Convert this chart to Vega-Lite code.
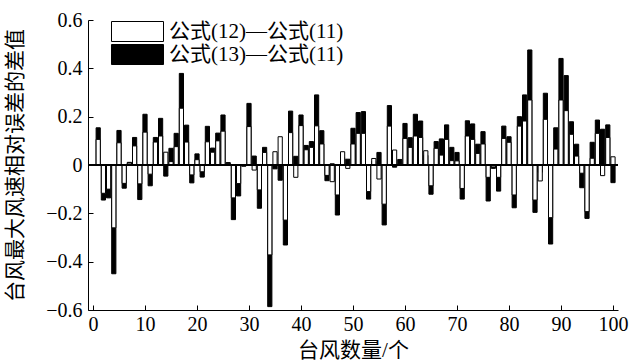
{
  "$schema": "https://vega.github.io/schema/vega-lite/v6.json",
  "width": 530,
  "height": 290,
  "autosize": {"type": "none"},
  "padding": {"left": 88, "top": 20, "right": 23, "bottom": 51},
  "background": "white",
  "config": {
    "view": {"stroke": null},
    "font": "Liberation Serif, Noto Sans CJK SC",
    "axis": {"domainColor": "black", "tickColor": "black", "labelColor": "black", "titleColor": "black", "grid": false, "titleFontWeight": "normal", "labelFontSize": 20, "titleFontSize": 21, "tickSize": -5, "domainWidth": 1, "tickWidth": 1}
  },
  "data": {"values": [
    {"n":1,"f12":0.106,"f13":0.154},{"n":2,"f12":-0.117,"f13":-0.145},{"n":3,"f12":-0.1,"f13":-0.136},{"n":4,"f12":-0.26,"f13":-0.45},{"n":5,"f12":0.092,"f13":0.143},
    {"n":6,"f12":-0.076,"f13":-0.096},{"n":7,"f12":0.008,"f13":0.011},{"n":8,"f12":0.079,"f13":0.114},{"n":9,"f12":-0.078,"f13":-0.143},{"n":10,"f12":0.136,"f13":0.21},
    {"n":11,"f12":-0.038,"f13":-0.086},{"n":12,"f12":0.095,"f13":0.114},{"n":13,"f12":0.12,"f13":0.193},{"n":14,"f12":0.053,"f13":-0.046},{"n":15,"f12":0.014,"f13":0.069},
    {"n":16,"f12":0.076,"f13":0.131},{"n":17,"f12":0.235,"f13":0.379},{"n":18,"f12":0.095,"f13":0.165},{"n":19,"f12":-0.041,"f13":-0.074},{"n":20,"f12":0.022,"f13":0.046},
    {"n":21,"f12":-0.028,"f13":-0.05},{"n":22,"f12":0.096,"f13":0.16},{"n":23,"f12":0.053,"f13":0.07},{"n":24,"f12":0.1,"f13":0.132},{"n":25,"f12":0.14,"f13":0.207},
    {"n":26,"f12":0.005,"f13":0.01},{"n":27,"f12":-0.136,"f13":-0.226},{"n":28,"f12":-0.077,"f13":-0.128},{"n":29,"f12":-0.003,"f13":-0.005},{"n":30,"f12":0.159,"f13":0.255},
    {"n":31,"f12":-0.021,"f13":0.037},{"n":32,"f12":-0.103,"f13":-0.179},{"n":33,"f12":0.052,"f13":0.073},{"n":34,"f12":-0.372,"f13":-0.586},{"n":35,"f12":0.055,"f13":-0.016},
    {"n":36,"f12":0.117,"f13":-0.063},{"n":37,"f12":-0.228,"f13":-0.331},{"n":38,"f12":0.134,"f13":0.223},{"n":39,"f12":-0.051,"f13":0.036},{"n":40,"f12":0.163,"f13":0.207},
    {"n":41,"f12":0.063,"f13":0.081},{"n":42,"f12":0.073,"f13":0.097},{"n":43,"f12":0.162,"f13":0.29},{"n":44,"f12":0.087,"f13":0.142},{"n":45,"f12":-0.043,"f13":-0.065},
    {"n":46,"f12":-0.069,"f13":0.005},{"n":47,"f12":-0.124,"f13":-0.207},{"n":48,"f12":0.055,"f13":0.03},{"n":49,"f12":-0.014,"f13":0.024},{"n":50,"f12":0.087,"f13":0.152},
    {"n":51,"f12":0.131,"f13":0.217},{"n":52,"f12":0.131,"f13":0.221},{"n":53,"f12":-0.11,"f13":-0.141},{"n":54,"f12":0.027,"f13":0.015},{"n":55,"f12":-0.058,"f13":0.052},
    {"n":56,"f12":-0.162,"f13":-0.248},{"n":57,"f12":0.161,"f13":0.246},{"n":58,"f12":0.062,"f13":-0.009},{"n":59,"f12":0.006,"f13":0.023},{"n":60,"f12":0.11,"f13":0.172},
    {"n":61,"f12":0.073,"f13":0.113},{"n":62,"f12":0.12,"f13":0.21},{"n":63,"f12":0.114,"f13":0.182},{"n":64,"f12":0.059,"f13":0.04},{"n":65,"f12":-0.086,"f13":-0.121},
    {"n":66,"f12":0.069,"f13":0.097},{"n":67,"f12":0.041,"f13":0.108},{"n":68,"f12":0.106,"f13":0.166},{"n":69,"f12":0.018,"f13":0.073},{"n":70,"f12":0.017,"f13":0.052},
    {"n":71,"f12":-0.097,"f13":-0.141},{"n":72,"f12":0.12,"f13":0.183},{"n":73,"f12":0.106,"f13":0.17},{"n":74,"f12":0.048,"f13":0.086},{"n":75,"f12":0.087,"f13":0.138},
    {"n":76,"f12":-0.051,"f13":-0.149},{"n":77,"f12":-0.008,"f13":-0.014},{"n":78,"f12":-0.051,"f13":-0.108},{"n":79,"f12":0.11,"f13":0.161},{"n":80,"f12":0.094,"f13":0.117},
    {"n":81,"f12":-0.124,"f13":-0.177},{"n":82,"f12":0.161,"f13":0.2},{"n":83,"f12":0.182,"f13":0.29},{"n":84,"f12":0.269,"f13":0.476},{"n":85,"f12":-0.145,"f13":-0.196},
    {"n":86,"f12":-0.066,"f13":-0.03},{"n":87,"f12":0.189,"f13":0.297},{"n":88,"f12":-0.218,"f13":-0.327},{"n":89,"f12":0.066,"f13":0.154},{"n":90,"f12":0.269,"f13":0.441},
    {"n":91,"f12":0.225,"f13":0.37},{"n":92,"f12":0.127,"f13":0.179},{"n":93,"f12":0.037,"f13":0.086},{"n":94,"f12":-0.034,"f13":-0.094},{"n":95,"f12":-0.193,"f13":-0.221},
    {"n":96,"f12":0.028,"f13":0.094},{"n":97,"f12":0.131,"f13":0.186},{"n":98,"f12":-0.044,"f13":0.148},{"n":99,"f12":0.114,"f13":0.166},{"n":100,"f12":0.034,"f13":-0.073}
  ]},
  "layer": [
    {
      "transform": [{"fold": ["f13", "f12"], "as": ["s", "v"]}],
      "mark": {"type": "bar", "stroke": "black", "strokeWidth": 1, "size": 4.2},
      "encoding": {
        "x": {"field": "n", "type": "quantitative", "scale": {"domain": [0, 100], "nice": false},
          "axis": {"values": [0,10,20,30,40,50,60,70,80,90,100], "title": "台风数量/个", "labelFlush": false, "labelPadding": 9, "titlePadding": 5}},
        "y": {"field": "v", "type": "quantitative", "stack": null, "scale": {"domain": [-0.6, 0.6], "nice": false},
          "axis": {"values": [-0.6,-0.4,-0.2,0,0.2,0.4,0.6], "labelExpr": "datum.value == 0 ? '0' : format(datum.value, '.1f')", "title": "台风最大风速相对误差的差值", "titleX": -73, "titleY": 145, "titleBaseline": "middle", "titleAlign": "center", "labelPadding": 11}},
        "fill": {"field": "s", "type": "nominal", "scale": {"domain": ["f12", "f13"], "range": ["white", "black"]},
          "legend": {"title": null, "orient": "none", "legendX": 39, "legendY": 1, "symbolType": "M-2.6,-1L2.6,-1L2.6,1L-2.6,1Z", "symbolSize": 400, "symbolStrokeColor": "black", "symbolStrokeWidth": 1, "symbolOpacity": 1, "rowPadding": -4, "labelFontSize": 21, "labelColor": "black", "labelOffset": 21, "labelLimit": 0, "labelExpr": "datum.label == 'f12' ? '公式(12)—公式(11)' : '公式(13)—公式(11)'"}}
      }
    },
    {"mark": {"type": "rule", "color": "black", "strokeWidth": 1}, "encoding": {"y": {"datum": 0}}}
  ]
}
